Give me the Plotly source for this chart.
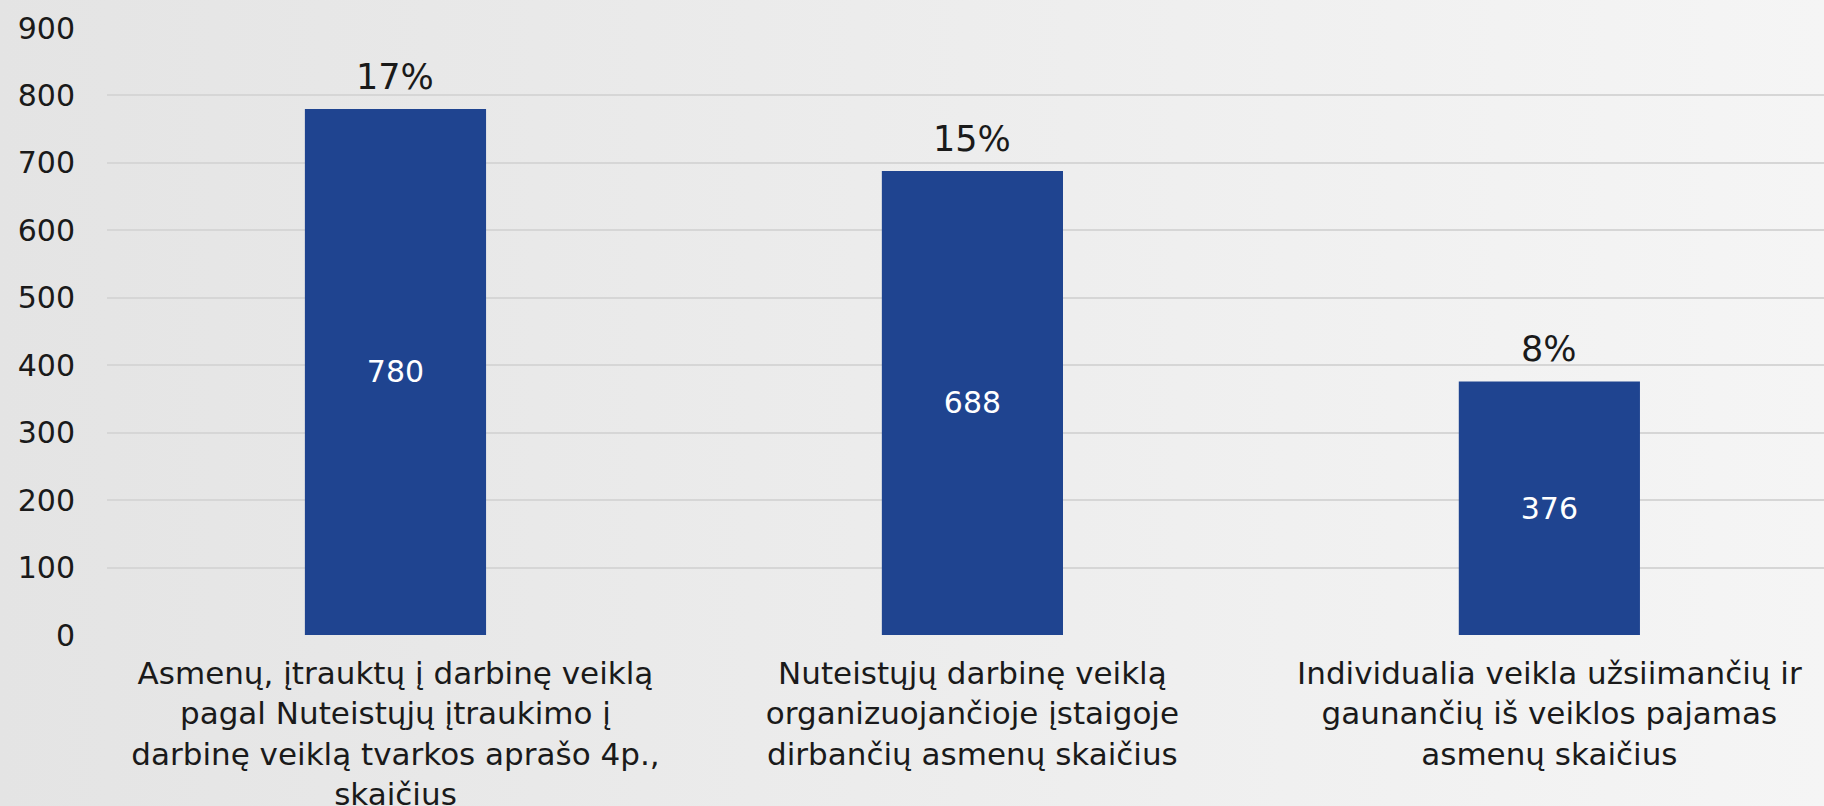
import base64
import plotly.graph_objects as go

categories = [
    "Asmenų, įtrauktų į darbinę veiklą<br>pagal Nuteistųjų įtraukimo į<br>darbinę veiklą tvarkos aprašo 4p.,<br>skaičius",
    "Nuteistųjų darbinę veiklą<br>organizuojančioje įstaigoje<br>dirbančių asmenų skaičius",
    "Individualia veikla užsiimančių ir<br>gaunančių iš veiklos pajamas<br>asmenų skaičius",
]
values = [780, 688, 376]
percent_labels = ["17%", "15%", "8%"]
y_ticks = [0, 100, 200, 300, 400, 500, 600, 700, 800, 900]

FONT = "DejaVu Sans"
W, H = 1824, 806
ML, MR, MT, MB = 107, 0, 28, 171
pw, ph = W - ML - MR, H - MT - MB

svg = (
    f'<svg xmlns="http://www.w3.org/2000/svg" width="{W}" height="{H}">'
    '<defs><linearGradient id="g" x1="0" y1="0" x2="1" y2="0">'
    '<stop offset="0" stop-color="#e4e4e4"/><stop offset="1" stop-color="#f5f5f5"/>'
    '</linearGradient></defs>'
    f'<rect width="{W}" height="{H}" fill="url(#g)"/></svg>'
)
bg_src = "data:image/svg+xml;base64," + base64.b64encode(svg.encode()).decode()

xs = list(range(len(categories)))

fig = go.Figure()
fig.add_trace(go.Bar(
    x=xs, y=values,
    marker=dict(color="#1f4490", line=dict(width=0)),
    width=0.314,
    text=[str(v) for v in values],
    textposition="inside",
    insidetextanchor="middle",
    textangle=0,
    textfont=dict(family=FONT, size=30, color="white"),
    hoverinfo="skip",
))

for x, v, p in zip(xs, values, percent_labels):
    fig.add_annotation(
        x=x, y=v, text=p, showarrow=False,
        yanchor="bottom", yshift=10,
        font=dict(family=FONT, size=35, color="#1a1a1a"),
    )

fig.add_layout_image(
    source=bg_src, xref="paper", yref="paper",
    x=-ML / pw, y=1 + MT / ph, sizex=W / pw, sizey=H / ph,
    xanchor="left", yanchor="top", sizing="stretch", layer="below",
)

fig.update_layout(
    width=W, height=H,
    margin=dict(l=ML, r=MR, t=MT, b=MB, pad=0, autoexpand=False),
    paper_bgcolor="#ececec",
    plot_bgcolor="rgba(0,0,0,0)",
    showlegend=False,
    hovermode=False,
    font=dict(family=FONT, color="#1a1a1a"),
    xaxis=dict(
        range=[-0.5, 2.476],
        tickmode="array", tickvals=xs, ticktext=categories,
        tickfont=dict(family=FONT, size=31, color="#1a1a1a"),
        showgrid=False, zeroline=False, showline=False, ticks="",
        ticklabelstandoff=17, automargin=False,
    ),
    yaxis=dict(
        range=[0, 900],
        tickmode="array", tickvals=y_ticks,
        tickfont=dict(family=FONT, size=30, color="#1a1a1a"),
        showgrid=True, gridcolor="#d6d6d6", gridwidth=2,
        zeroline=False, showline=False, ticks="",
        ticklabelstandoff=31, automargin=False,
    ),
)

fig.write_html(
    "out.html",
    config={"displayModeBar": False},
    post_script=(
        "document.documentElement.style.margin='0';"
        "document.documentElement.style.overflow='hidden';"
        "document.body.style.margin='0';"
        "document.body.style.overflow='hidden';"
        "document.body.style.background='#ececec';"
        "window.scrollTo(0,0);"
    ),
)
